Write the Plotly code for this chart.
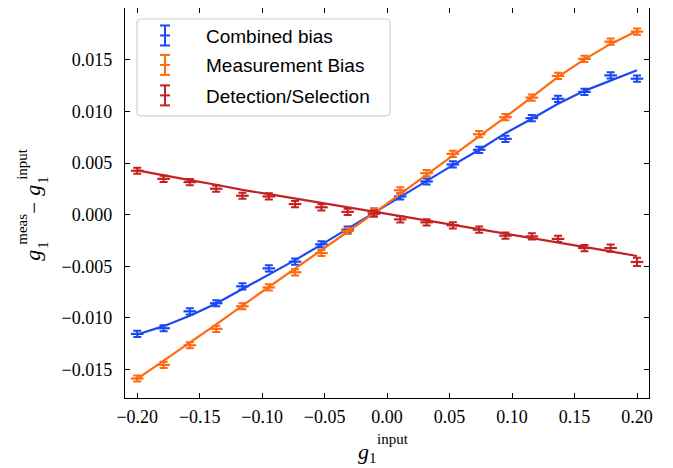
import plotly.graph_objects as go

# ---------------- data ----------------
g1_input = [-0.2, -0.1789, -0.1579, -0.1368, -0.1158, -0.0947, -0.0737, -0.0526, -0.0316, -0.0105,
            0.0105, 0.0316, 0.0526, 0.0737, 0.0947, 0.1158, 0.1368, 0.1579, 0.1789, 0.2]

combined = [-0.01155, -0.0110, -0.00936, -0.00858, -0.00694, -0.0052, -0.00455, -0.00287, -0.00145, 0.0003,
            0.00177, 0.00322, 0.00487, 0.00629, 0.00735, 0.00936, 0.01123, 0.0119, 0.0135, 0.01318]
combined_err = [0.0003] * 20
combined_fit = [-0.0116, -0.0108, -0.0098, -0.0086, -0.0072, -0.0058, -0.0044, -0.0029, -0.00135, 0.0002,
                0.00175, 0.00325, 0.0048, 0.0063, 0.0079, 0.0093, 0.01075, 0.0120, 0.0130, 0.0140]

measurement = [-0.01587, -0.01455, -0.01265, -0.01106, -0.00887, -0.00705, -0.00558, -0.00371, -0.00158, 0.0003,
               0.00237, 0.00403, 0.0059, 0.0078, 0.00945, 0.01135, 0.01345, 0.0151, 0.01677, 0.01774]
measurement_err = [0.0003] * 20
measurement_fit = [-0.0159, -0.01415, -0.0124, -0.01062, -0.0088, -0.00703, -0.00525, -0.00345, -0.00165, 0.00016,
                   0.002, 0.00385, 0.0057, 0.00758, 0.00945, 0.0114, 0.01335, 0.01505, 0.01655, 0.0178]

detection = [0.00426, 0.00348, 0.00316, 0.00252, 0.00184, 0.00177, 0.00103, 0.00072, 0.00028, 0.0001,
             -0.00045, -0.00074, -0.00103, -0.00145, -0.00203, -0.0021, -0.00235, -0.00323, -0.00323, -0.00458]
detection_err = [0.0003] * 18 + [0.00035, 0.0004]
detection_fit = [0.0043, 0.0038, 0.00335, 0.0029, 0.0024, 0.002, 0.00158, 0.00115, 0.00072, 0.0003,
                 -0.00012, -0.00055, -0.00097, -0.0014, -0.00182, -0.00225, -0.00268, -0.0031, -0.00355, -0.0040]

series_names = ["Combined bias", "Measurement Bias", "Detection/Selection"]
x_ticks = [-0.20, -0.15, -0.10, -0.05, 0.00, 0.05, 0.10, 0.15, 0.20]
y_ticks = [-0.015, -0.010, -0.005, 0.000, 0.005, 0.010, 0.015]

# ---------------- style ----------------
colors = ["#1b48f5", "#ff6a10", "#c42222"]
OFF = 8  # page body margin
W, H = 673 - OFF, 468 - OFF
# plot area in window pixels: x 125..649, y 8..398.5
L, R, T, B = 125 - OFF, W - (649 - OFF), 0, H - (398.5 - OFF)
pw, ph = W - L - R, H - T - B

series = [
    (combined, combined_err, combined_fit),
    (measurement, measurement_err, measurement_fit),
    (detection, detection_err, detection_fit),
]

fig = go.Figure()
for (vals, errs, fit), c, name in zip(series, colors, series_names):
    fig.add_trace(go.Scatter(
        x=g1_input, y=fit, mode="lines", line=dict(color=c, width=2.2),
        showlegend=False, hoverinfo="skip"))
    fig.add_trace(go.Scatter(
        x=g1_input, y=vals, mode="markers", name=name, showlegend=False,
        marker=dict(symbol="line-ew", size=9, color=c, line=dict(color=c, width=2.2)),
        error_y=dict(type="data", array=errs, visible=True, color=c, thickness=2, width=4)))

serif = "Liberation Serif"
axis_common = dict(
    showline=True, linecolor="black", linewidth=1.3, mirror="ticks",
    ticks="inside", ticklen=5, tickwidth=1.2, tickcolor="black",
    showgrid=False, zeroline=False,
    tickfont=dict(family=serif, size=18, color="black"),
)
fig.update_xaxes(range=[-0.2098, 0.2096], tickvals=x_ticks, tickformat=".2f",
                 ticklabelstandoff=2, **axis_common)
fig.update_yaxes(range=[-0.01776, 0.02003], tickvals=y_ticks, tickformat=".3f",
                 ticklabelstandoff=8, **axis_common)


def px(xp):
    return (xp - OFF - L) / pw


def py(yp):
    return (OFF + ph - yp) / ph


shapes = []
annotations = []

# ---- legend (drawn as decorations) ----
lx0, lx1, ly0, ly1, rr = 137, 390, 19, 116, 4
path = (f"M {px(lx0+rr)},{py(ly0)} L {px(lx1-rr)},{py(ly0)} Q {px(lx1)},{py(ly0)} {px(lx1)},{py(ly0+rr)} "
        f"L {px(lx1)},{py(ly1-rr)} Q {px(lx1)},{py(ly1)} {px(lx1-rr)},{py(ly1)} "
        f"L {px(lx0+rr)},{py(ly1)} Q {px(lx0)},{py(ly1)} {px(lx0)},{py(ly1-rr)} "
        f"L {px(lx0)},{py(ly0+rr)} Q {px(lx0)},{py(ly0)} {px(lx0+rr)},{py(ly0)} Z")
shapes.append(dict(type="path", xref="paper", yref="paper", path=path,
                   line=dict(color="#d0d0d0", width=1.2), fillcolor="rgba(255,255,255,0.85)", layer="above"))
row_y = [35.5, 65, 95.5]
ix = 165
for name, c, ry in zip(series_names, colors, row_y):
    seg = [((ix, ry - 10), (ix, ry + 10)), ((ix - 5, ry - 10), (ix + 5, ry - 10)),
           ((ix - 5, ry + 10), (ix + 5, ry + 10)), ((ix - 5, ry), (ix + 5, ry))]
    for (a, b) in seg:
        shapes.append(dict(type="line", xref="paper", yref="paper",
                           x0=px(a[0]), y0=py(a[1]), x1=px(b[0]), y1=py(b[1]),
                           line=dict(color=c, width=2), layer="above"))
    annotations.append(dict(xref="paper", yref="paper", x=px(204), y=py(ry + 1), text=name,
                            showarrow=False, xanchor="left", yanchor="middle",
                            font=dict(family="Liberation Sans", size=19, color="black")))

# ---- axis titles (stacked sub/superscripts) ----
def ann(text, xp, yp, size, angle=0, italic=False):
    annotations.append(dict(xref="paper", yref="paper", x=px(xp), y=py(yp),
                            text=(f"<i>{text}</i>" if italic else text), showarrow=False,
                            xanchor="center", yanchor="middle", textangle=angle,
                            font=dict(family=serif, size=size, color="black")))

# y title
ann("g", 33, 256, 22, -90, True)
ann("1", 43, 245, 15, -90)
ann("meas", 22, 230, 15, -90)
ann("\u2212", 34, 208, 21, -90)
ann("g", 33, 191, 22, -90, True)
ann("1", 43, 180, 15, -90)
ann("input", 22, 164, 15, -90)
# x title
ann("g", 363, 452, 22, 0, True)
ann("1", 373, 459, 15)
ann("input", 393, 440, 15)

fig.update_layout(
    width=W, height=H, margin=dict(l=L, r=R, t=T, b=B, pad=0),
    paper_bgcolor="white", plot_bgcolor="white",
    shapes=shapes, annotations=annotations, showlegend=False,
)
fig.write_html("out.html")
